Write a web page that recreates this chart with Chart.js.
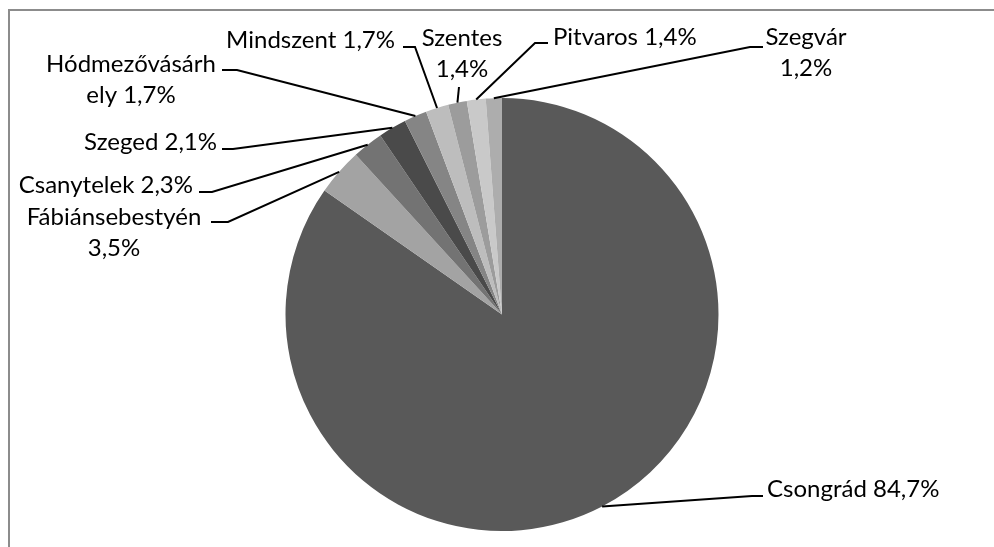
<!DOCTYPE html>
<html>
<head>
<meta charset="utf-8">
<script src="https://cdn.jsdelivr.net/npm/chart.js@4.4.1/dist/chart.umd.min.js"></script>
<style>
  html, body { margin: 0; padding: 0; background: #fff; }
  #wrap { position: relative; width: 994px; height: 547px; overflow: hidden; }
  #frame { position: absolute; left: 8px; top: 9px; width: 1200px; height: 800px;
           border-top: 2px solid #8c8c8c; border-left: 2px solid #8c8c8c; }
  #myChart { position: absolute; left: 0; top: 0; }
</style>
</head>
<body>
<div id="wrap">
  <div id="frame"></div>
  <canvas id="myChart" width="994" height="547"></canvas>
</div>
<script>
'use strict'

const towns = ['Csongrád', 'Fábiánsebestyén', 'Csanytelek', 'Szeged', 'Hódmezővásárhely',
  'Mindszent', 'Szentes', 'Pitvaros', 'Szegvár'];
const shares = [84.7, 3.5, 2.3, 2.1, 1.7, 1.7, 1.4, 1.4, 1.2];
const sliceColors = ['#595959', '#a3a3a3', '#737373', '#4a4a4a', '#858585',
  '#bdbdbd', '#9c9c9c', '#c9c9c9', '#adadad'];

// where each label sits (brk = char index to wrap the text at)
const labelSpots = [
  { align: 'left', x: 767, y: 497, path: [[752, 496], [763, 496]] },
  { align: 'center', x: 114, y: 225, brk: 15, path: [[228, 222], [211, 222]] },
  { align: 'right', x: 193, y: 193, path: [[212, 192], [199, 192]] },
  { align: 'right', x: 217, y: 150, path: [[233, 149], [222, 149]] },
  { align: 'center', x: 131, y: 72, brk: 13, path: [[237, 70], [222, 70]] },
  { align: 'right', x: 395, y: 48, path: [[415, 47], [403, 47]] },
  { align: 'center', x: 462, y: 46, brk: 7, path: [[459, 87]] },
  { align: 'left', x: 553, y: 45, path: [[535, 43], [548, 43]] },
  { align: 'center', x: 806, y: 45, brk: 7, path: [[750, 47], [763, 47]] }
];

function labelText(i) {
  return towns[i] + ' ' + shares[i].toFixed(1).replace('.', ',') + '%';
}

const leaderLabels = {
  id: 'leaderLabels',
  afterDraw(chart) {
    const ctx = chart.ctx;
    const arcs = chart.getDatasetMeta(0).data;
    ctx.save();
    ctx.font = '24px Lato, "Open Sans", sans-serif';
    ctx.fillStyle = '#000';
    ctx.strokeStyle = '#000';
    ctx.lineWidth = 2;
    for (let i = 0; i < arcs.length; i++) {
      const arc = arcs[i];
      const spot = labelSpots[i];
      const mid = (arc.startAngle + arc.endAngle) / 2;
      const sx = arc.x + Math.cos(mid) * arc.outerRadius;
      const sy = arc.y + Math.sin(mid) * arc.outerRadius;
      ctx.beginPath();
      ctx.moveTo(sx, sy);
      for (let p of spot.path) {
        ctx.lineTo(p[0], p[1]);
      }
      ctx.stroke();

      let txt = labelText(i);
      let lines = [txt];
      if (spot.brk) {
        lines = [txt.slice(0, spot.brk).trim(), txt.slice(spot.brk).trim()];
      }
      ctx.textAlign = spot.align;
      ctx.textBaseline = 'alphabetic';
      for (let k = 0; k < lines.length; k++) {
        ctx.fillText(lines[k], spot.x, spot.y + k * 31);
      }
    }
    ctx.restore();
  }
};

let data = {
  labels: towns,
  datasets: [{
    data: shares,
    backgroundColor: sliceColors,
    borderWidth: 0
  }]
};

const config = {
  type: 'pie',
  data: data,
  options: {
    responsive: false,
    animation: false,
    layout: { padding: { top: 98, bottom: 16, left: 200, right: 190 } },
    plugins: {
      legend: { display: false },
      tooltip: { enabled: false }
    }
  },
  plugins: [leaderLabels]
};

let myChart = new Chart(document.getElementById('myChart'), config);
</script>
</body>
</html>
